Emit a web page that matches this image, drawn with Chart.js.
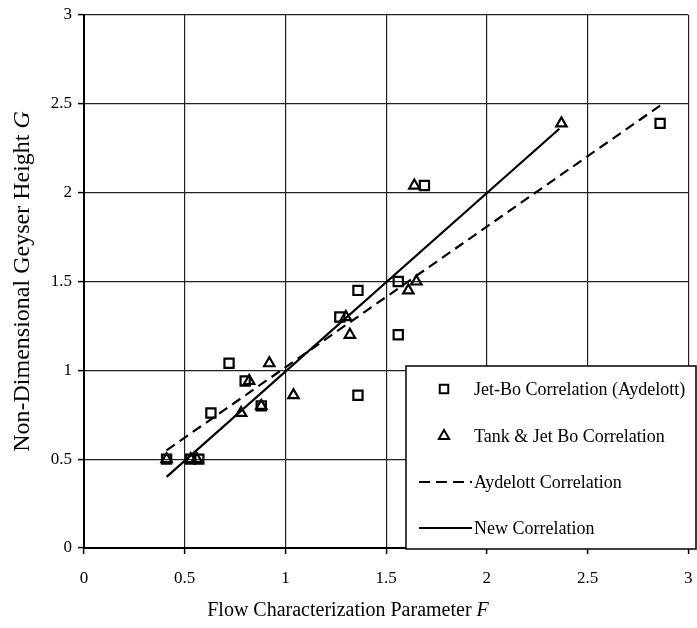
<!DOCTYPE html>
<html>
<head>
<meta charset="utf-8">
<script src="https://cdn.jsdelivr.net/npm/chart.js@4/dist/chart.umd.min.js"></script>
<style>
  html, body { margin: 0; padding: 0; background: #fff; }
  #wrap { width: 697px; height: 628px; position: relative; }
</style>
</head>
<body>
<div id="wrap"><canvas id="geyserChart"></canvas></div>
<script>
// data
const jetBoF = [0.41, 0.53, 0.57, 0.63, 0.72, 0.80, 0.88, 1.27, 1.36, 1.36, 1.56, 1.56, 1.69, 2.86];
const jetBoG = [0.50, 0.50, 0.50, 0.76, 1.04, 0.94, 0.80, 1.30, 1.45, 0.86, 1.50, 1.20, 2.04, 2.39];
const tankF = [0.41, 0.53, 0.56, 0.78, 0.82, 0.88, 0.92, 1.04, 1.30, 1.32, 1.61, 1.65, 1.64, 2.37];
const tankG = [0.50, 0.50, 0.50, 0.76, 0.94, 0.80, 1.04, 0.86, 1.30, 1.20, 1.45, 1.50, 2.04, 2.39];
const aydelottF = [0.41, 2.86];
const aydelottG = [0.55, 2.49];
const newCorrF = [0.41, 2.36];
const newCorrG = [0.40, 2.36];
const tickValues = [0, 0.5, 1, 1.5, 2, 2.5, 3];
const tickLabels = ['0', '0.5', '1', '1.5', '2', '2.5', '3'];

const serif = '"Liberation Serif", "Times New Roman", serif';

function toPoints(xs, ys) {
  return xs.map(function(x, i) { return { x: x, y: ys[i] }; });
}

// legend box inside the plot + axis titles with italic symbol
const overlayPlugin = {
  id: 'overlay',
  afterDraw(chart) {
    const ctx = chart.ctx;
    const area = chart.chartArea;
    ctx.save();

    // legend
    const bx = 406, by = 366, bw = 290, bh = 183;
    ctx.fillStyle = '#fff';
    ctx.fillRect(bx, by, bw, bh);
    ctx.strokeStyle = '#000';
    ctx.lineWidth = 1.5;
    ctx.strokeRect(bx, by, bw, bh);

    const rows = [389, 436, 482, 528];
    const texts = ['Jet-Bo Correlation (Aydelott)', 'Tank & Jet Bo Correlation', 'Aydelott Correlation', 'New Correlation'];

    ctx.lineWidth = 2;
    ctx.fillStyle = '#fff';
    Chart.helpers.drawPoint(ctx, { pointStyle: 'rect', radius: 6, borderWidth: 2 }, 444, rows[0]);
    Chart.helpers.drawPoint(ctx, { pointStyle: 'triangle', radius: 6, borderWidth: 2 }, 444, rows[1]);

    ctx.beginPath();
    ctx.setLineDash([11, 6]);
    ctx.moveTo(419, rows[2]);
    ctx.lineTo(472, rows[2]);
    ctx.stroke();
    ctx.setLineDash([]);
    ctx.beginPath();
    ctx.moveTo(419, rows[3]);
    ctx.lineTo(472, rows[3]);
    ctx.stroke();

    ctx.font = '18px ' + serif;
    ctx.fillStyle = '#000';
    ctx.textBaseline = 'middle';
    ctx.textAlign = 'left';
    texts.forEach(function(t, i) {
      ctx.fillText(t, 474, rows[i] + 1);
    });

    // x title
    const xPlain = 'Flow Characterization Parameter ';
    ctx.font = '20px ' + serif;
    const w1 = ctx.measureText(xPlain).width;
    ctx.font = 'italic 20px ' + serif;
    const w2 = ctx.measureText('F').width;
    let sx = 348 - (w1 + w2) / 2;
    ctx.font = '20px ' + serif;
    ctx.fillText(xPlain, sx, 611);
    ctx.font = 'italic 20px ' + serif;
    ctx.fillText('F', sx + w1, 611);

    // y title
    const yPlain = 'Non-Dimensional Geyser Height ';
    ctx.translate(23, (area.top + area.bottom) / 2);
    ctx.rotate(-Math.PI / 2);
    ctx.font = '24px ' + serif;
    const h1 = ctx.measureText(yPlain).width;
    ctx.font = 'italic 24px ' + serif;
    const h2 = ctx.measureText('G').width;
    sx = -(h1 + h2) / 2;
    ctx.font = '24px ' + serif;
    ctx.fillText(yPlain, sx, 0);
    ctx.font = 'italic 24px ' + serif;
    ctx.fillText('G', sx + h1, 0);

    ctx.restore();
  }
};

function fixedTicks(scale) {
  scale.ticks = tickValues.map(function(v) { return { value: v }; });
}

function tickText(value) {
  const i = tickValues.indexOf(value);
  return i >= 0 ? tickLabels[i] : '';
}

document.addEventListener('DOMContentLoaded', function() {
  const el = document.getElementById('geyserChart');
  const gridOpts = { color: '#222', lineWidth: 1.2, tickLength: 6, tickColor: '#000', tickWidth: 1.5 };

  new Chart(el, {
    type: 'scatter',
    data: {
      datasets: [{
        label: 'Jet-Bo Correlation (Aydelott)',
        data: toPoints(jetBoF, jetBoG),
        pointStyle: 'rect',
        pointRadius: 6.5,
        borderColor: '#000',
        backgroundColor: 'rgba(0,0,0,0)',
        pointBorderWidth: 2.2
      }, {
        label: 'Tank & Jet Bo Correlation',
        data: toPoints(tankF, tankG),
        pointStyle: 'triangle',
        pointRadius: 6,
        borderColor: '#000',
        backgroundColor: 'rgba(0,0,0,0)',
        pointBorderWidth: 2.2
      }, {
        label: 'Aydelott Correlation',
        data: toPoints(aydelottF, aydelottG),
        showLine: true,
        pointRadius: 0,
        borderColor: '#000',
        borderWidth: 2.2,
        borderDash: [10, 6]
      }, {
        label: 'New Correlation',
        data: toPoints(newCorrF, newCorrG),
        showLine: true,
        pointRadius: 0,
        borderColor: '#000',
        borderWidth: 2.2
      }]
    },
    options: {
      responsive: true,
      maintainAspectRatio: false,
      animation: false,
      layout: { padding: { top: 15, right: -4, left: 0, bottom: 0 } },
      plugins: {
        legend: { display: false },
        tooltip: { enabled: false }
      },
      scales: {
        x: {
          type: 'linear',
          min: 0,
          max: 3,
          afterBuildTicks: fixedTicks,
          afterFit: function(scale) {
            scale.height = 80;
            scale.paddingLeft = 0;
            scale.paddingRight = 0;
          },
          grid: gridOpts,
          border: { color: '#000', width: 2 },
          ticks: { color: '#000', padding: 14, maxRotation: 0, font: { family: serif, size: 17 }, callback: tickText }
        },
        y: {
          type: 'linear',
          min: 0,
          max: 3,
          afterBuildTicks: fixedTicks,
          afterFit: function(scale) {
            scale.width = 84;
            scale.paddingTop = 0;
            scale.paddingBottom = 0;
          },
          grid: gridOpts,
          border: { color: '#000', width: 2 },
          ticks: { color: '#000', padding: 6, font: { family: serif, size: 17 }, callback: tickText }
        }
      }
    },
    plugins: [overlayPlugin]
  });
});
</script>
</body>
</html>
